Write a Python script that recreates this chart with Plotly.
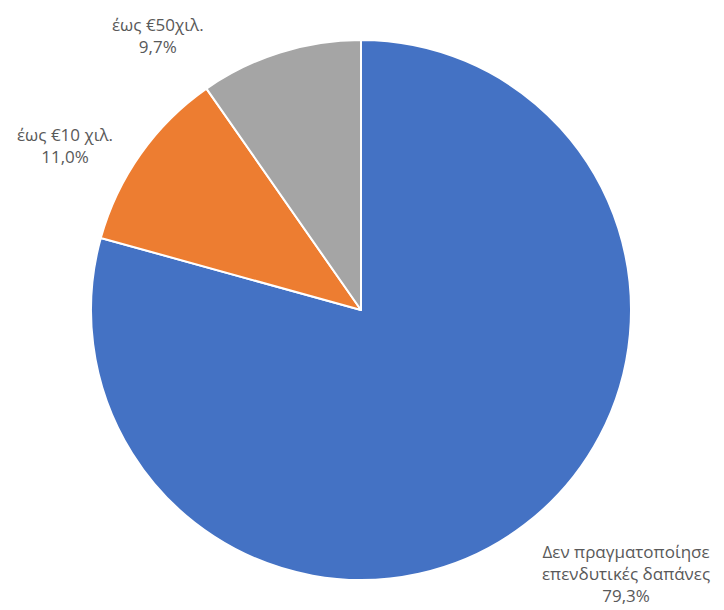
import plotly.graph_objects as go

categories = ["Δεν πραγματοποίησε επενδυτικές δαπάνες", "έως €10 χιλ.", "έως €50χιλ."]
values = [79.3, 11.0, 9.7]
label_lines = [
    "Δεν πραγματοποίησε<br>επενδυτικές δαπάνες<br>79,3%",
    "έως €10 χιλ.<br>11,0%",
    "έως €50χιλ.<br>9,7%",
]
colors = ["#4472C4", "#ED7D31", "#A5A5A5"]

W, H = 724, 610
fig = go.Figure(go.Pie(
    labels=categories, values=values, sort=False, direction="clockwise", rotation=0,
    marker=dict(colors=colors, line=dict(color="white", width=2)),
    textinfo="none", hoverinfo="label+percent", showlegend=False,
    domain=dict(x=[83 / W, 623 / W], y=[1 - 572 / H, 1 - 32 / H]),
))

label_pos = [(618, 565), (57, 138), (150, 28)]
for txt, (px, py) in zip(label_lines, label_pos):
    fig.add_annotation(
        x=px / W, y=1 - py / H, xref="paper", yref="paper", text=txt,
        showarrow=False, xanchor="center", yanchor="middle", align="center",
        font=dict(family="Open Sans, sans-serif", size=17, color="#595959"),
    )

fig.update_layout(
    width=W, height=H, margin=dict(l=0, r=0, t=0, b=0),
    paper_bgcolor="white", plot_bgcolor="white",
)
fig.write_html("out.html")
